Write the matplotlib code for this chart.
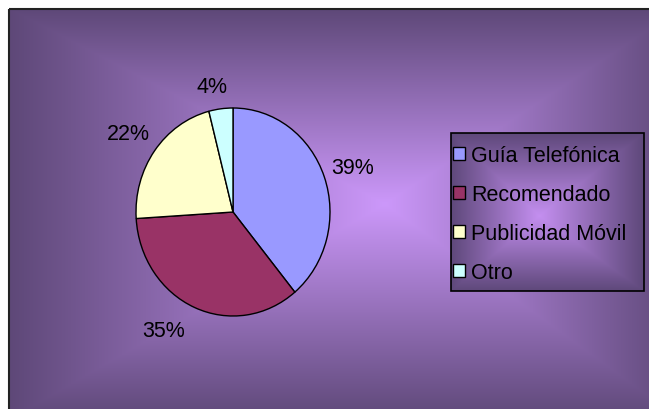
import numpy as np
import matplotlib
matplotlib.use('Agg')
import matplotlib.pyplot as plt
from matplotlib.patches import Rectangle, Patch

# survey answers: how the customer heard about us
categories = ['Guía Telefónica', 'Recomendado', 'Publicidad Móvil', 'Otro']
shares = [39, 35, 22, 4]
slice_colors = ['#9999ff', '#993366', '#ffffcc', '#ccffff']

# where each percentage label sits (pie data units)
label_xy = [(1.23, 0.43), (-0.72, -1.14), (-1.08, 0.75), (-0.22, 1.21)]

W, H = 649, 410
plt.rcParams['font.family'] = ['Liberation Sans', 'DejaVu Sans']
FS = 15.5


def box_gradient(w, h, cx, cy, left, right, top, bottom, inner, outer):
    # rectangular "from centre" shading
    xs = np.arange(w) + 0.5
    ys = np.arange(h) + 0.5
    X, Y = np.meshgrid(xs, ys)
    dx = X - cx
    dy = Y - cy
    tx = np.where(dx < 0, -dx / left, dx / right)
    ty = np.where(dy < 0, -dy / top, dy / bottom)
    t = np.clip(np.maximum(tx, ty), 0, 1)[..., None]
    inner = np.array(inner) / 255.0
    outer = np.array(outer) / 255.0
    return inner + (outer - inner) * t


fig = plt.figure(figsize=(W / 100, H / 100), dpi=100)

# background layer in pixel coordinates
bg = fig.add_axes([0, 0, 1, 1])
bg.set_xlim(0, W)
bg.set_ylim(H, 0)
bg.axis('off')

img = box_gradient(W, H, 385, 205, 375, 295, 195, 215,
                   (204, 152, 250), (94, 72, 120))
img[:10, :, :] = 1.0
img[:, :9, :] = 1.0
bg.imshow(img, extent=(0, W, H, 0), interpolation='bilinear', zorder=0)
bg.add_patch(Rectangle((9, 10), 700, 450, fill=False, edgecolor='#222222',
                       linewidth=1.5, zorder=2))

# legend box with its own shading
lx0, ly0, lx1, ly1 = 451, 134, 644, 292
lw, lh = lx1 - lx0, ly1 - ly0
leg_img = box_gradient(lw, lh, lw / 2 - 8, lh / 2 + 4, lw / 2 - 8, lw / 2 + 8,
                       lh / 2 + 4, lh / 2 - 4, (196, 143, 240), (94, 72, 122))
bg.imshow(leg_img, extent=(lx0, lx1, ly1, ly0), interpolation='bilinear', zorder=1)
bg.add_patch(Rectangle((lx0, ly0), lw, lh, fill=False, edgecolor='black',
                       linewidth=1.2, zorder=3))

# pie axes: slightly taller than wide
cx, cy, rx, ry = 233, 213, 97, 104
pad = 1.1
aw, ah = 2 * pad * rx, 2 * pad * ry
ax = fig.add_axes([(cx - aw / 2) / W, (H - cy - ah / 2) / H, aw / W, ah / H])
ax.pie(shares, colors=slice_colors, startangle=90, counterclock=False,
       wedgeprops=dict(edgecolor='black', linewidth=1.0))
ax.set_aspect('auto')
ax.set_xlim(-pad, pad)
ax.set_ylim(-pad, pad)
ax.axis('off')

for v, (x, y) in zip(shares, label_xy):
    ax.text(x, y, f'{v}%', ha='center', va='center', fontsize=FS,
            color='black', clip_on=False)

handles = [Patch(facecolor=c, edgecolor='black', linewidth=1.0) for c in slice_colors]
fig.legend(handles, categories, loc='center left',
           bbox_to_anchor=((lx0 + 2) / W, 1 - ((ly0 + ly1) / 2 + 2) / H),
           frameon=False, fontsize=FS, handlelength=0.55, handleheight=0.55,
           handletextpad=0.3, labelspacing=0.84, borderaxespad=0, borderpad=0)

fig.savefig('out.png', dpi=100)
